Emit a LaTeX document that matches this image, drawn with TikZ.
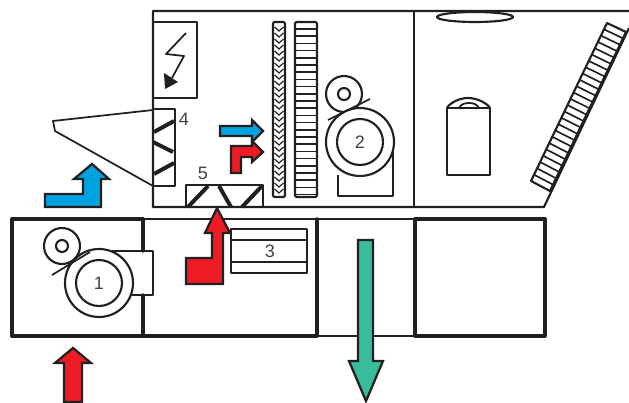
\documentclass[tikz,border=0pt]{standalone}
\usepackage{fontspec}
\usetikzlibrary{calc}
\setmainfont{Liberation Sans}
\definecolor{ink}{HTML}{231F20}
\definecolor{fblue}{HTML}{00A3E0}
\definecolor{fred}{HTML}{ED1C24}
\definecolor{fgreen}{HTML}{38BD9B}
\tikzset{
  thinl/.style={draw=ink,line width=1.3pt,line join=round},
  medl/.style={draw=ink,line width=1.6pt,line join=round},
  thickl/.style={draw=ink,line width=2.5pt,line join=round,line cap=round},
  bar/.style={draw=ink,line width=3pt},
  fin/.style={draw=ink,line width=1.25pt},
  flow/.style={draw=ink,line width=1.7pt,line join=miter},
  lab/.style={font=\fontsize{13.5}{16}\selectfont,text=ink!85,inner sep=0pt}
}
\begin{document}
\begin{tikzpicture}[x=0.75pt,y=-0.75pt]
\useasboundingbox (0,0) rectangle (629,403);
% upper casing
\draw[medl] (629,11) -- (153,11) -- (153,207) -- (544,207) -- (629,28);
\draw[medl] (414,11) -- (414,207);
% roof ellipse
\draw[medl] (475,17) ellipse [x radius=38,y radius=5];
% electric box
\draw[medl] (153,22) -- (197,22) -- (197,98) -- (153,98);
\draw[thinl] (186,33) -- (166,54) -- (184,56) -- (172,78);
\fill[ink] (165,89) -- (164,73) -- (178,82) -- cycle;
% damper 4 and hood
\draw[medl] (153,109) -- (175,109) -- (175,186) -- (153,186);
\draw[bar] (154,132) -- (174,121);
\draw[bar] (153,142) -- (173,152);
\draw[bar] (154,174) -- (174,163);
\draw[thinl] (153,110) -- (53,121) -- (55,131) -- (153,186);
\node[lab] (lfour) at (184,119) {4};
% damper 5
\draw[medl] (186,207) -- (186,185) -- (263,185) -- (263,207);
\draw[bar] (188,207) -- (208,186);
\draw[bar] (219,186) -- (231,207);
\draw[bar] (242,207) -- (262,186);
\node[lab] (lfive) at (203,173) {5};
% filter
\draw[medl,rounded corners=1pt] (273,22) rectangle (285,197);
\foreach \y in {27,33,...,193} \draw[draw=ink,line width=0.9pt] (274.5,\y) -- (279,\y+4) -- (283.5,\y);
% coil
\draw[medl,rounded corners=1pt] (295,22) rectangle (317,197);
\foreach \y in {29,36.2,...,195} \draw[fin] (295,\y) -- (317,\y);
% fan 2
\draw[medl] (338,175) -- (338,196) -- (393,196) -- (393,150);
\draw[medl,fill=white] (344,94) circle (18);
\draw[medl] (344,94) circle (6);
\draw[medl,fill=white] (360,142) circle (34);
\draw[medl] (360,142) circle (23);
\draw[thinl] (328,120) -- (370,99);
\node[lab] (ltwo) at (360,142) {2};
% tank
\draw[medl] (447,175) rectangle (490,108);
\draw[medl] (447,108) .. controls (449,104) and (458,98) .. (468,98) .. controls (478,98) and (488,104) .. (490,108);
\draw[thinl] (459,108) .. controls (461,104) and (465,103) .. (469,103) .. controls (473,103) and (477,104) .. (479,108);
% slanted coil
\draw[medl] (607,23) -- (626,32) -- (550,191) -- (531,181) -- cycle;
\foreach \t in {1,...,24}
  \draw[fin] ($(607,23)!\t/25!(531,181)$) -- ($(626,32)!\t/25!(550,191)$);
% lower casing
\draw[thickl] (143,219) -- (12,219) -- (12,336) -- (317,336);
\draw[medl] (143,219) -- (415,219);
\draw[medl] (317,336) -- (415,336);
\draw[thickl] (415,219) -- (545,219) -- (545,336) -- (415,336) -- cycle;
\draw[thickl] (143,219) -- (143,251);
\draw[thickl] (143,295) -- (143,336);
\draw[thickl] (317,219) -- (317,336);
% coil 3
\draw[medl] (231,229) rectangle (307,273);
\draw[medl] (231,240) -- (307,240);
\draw[medl] (231,262) -- (307,262);
\node[lab] (lthree) at (270,251) {3};
% fan 1
\draw[medl] (112,251) -- (153,251) -- (153,295) -- (130,295);
\draw[medl,fill=white] (62,246) circle (18);
\draw[medl] (62,246) circle (6);
\draw[medl,fill=white] (99,283) circle (34);
\draw[medl] (99,283) circle (23);
\draw[thinl] (52,275) -- (90,252);
\node[lab] (lone) at (99,283) {1};
% flows
\draw[flow,fill=fblue] (45,194) -- (83,194) -- (83,179) -- (74,179) -- (92,164) -- (109,179) -- (101,179) -- (101,207) -- (45,207) -- cycle;
\draw[flow,fill=fred] (73,348) -- (91,363) -- (82,363) -- (82,402) -- (64,402) -- (64,363) -- (55,363) -- cycle;
\draw[flow,fill=fred] (217,208) -- (230,233) -- (223,233) -- (223,284) -- (186,284) -- (186,258) -- (212,258) -- (212,233) -- (205,233) -- cycle;
\draw[flow,fill=fblue] (220,126) -- (252,126) -- (252,120) -- (263,131) -- (252,142) -- (252,136) -- (220,136) -- cycle;
\draw[flow,fill=fred] (231,173) -- (231,146) -- (252,146) -- (252,141) -- (263,152) -- (252,162) -- (252,157) -- (241,157) -- (241,173) -- cycle;
\draw[flow,fill=fgreen] (358,240) -- (373,240) -- (373,361) -- (383,361) -- (366,401) -- (349,361) -- (358,361) -- cycle;
\end{tikzpicture}
\end{document}
